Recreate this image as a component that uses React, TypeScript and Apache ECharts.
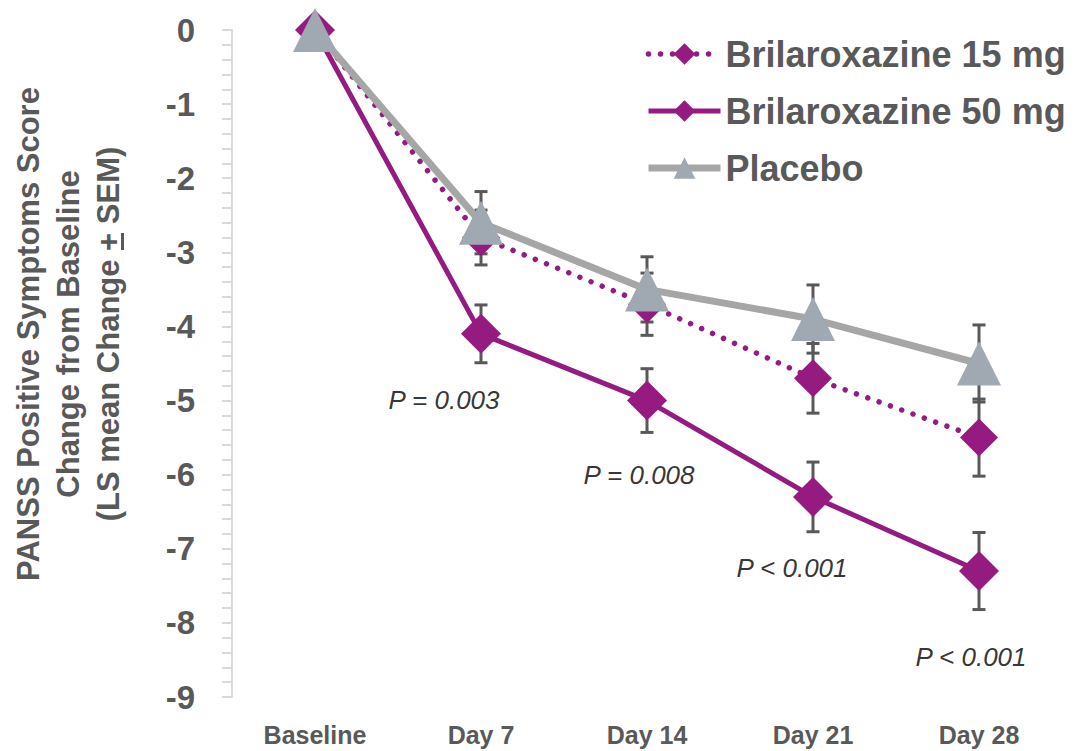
import React, { useEffect, useRef } from "react";
import * as echarts from "echarts";

const categories = ["Baseline", "Day 7", "Day 14", "Day 21", "Day 28"];
const brix15 = [0, -2.8, -3.7, -4.7, -5.5];
const brix15Sem = [0, 0.37, 0.42, 0.47, 0.52];
const brix50 = [0, -4.1, -5.0, -6.3, -7.3];
const brix50Sem = [0, 0.39, 0.43, 0.47, 0.52];
const placebo = [0, -2.6, -3.5, -3.9, -4.5];
const placeboSem = [0, 0.42, 0.44, 0.46, 0.52];

const seriesNames = ["Brilaroxazine 15 mg", "Brilaroxazine 50 mg", "Placebo"];

const pLabels = ["P = 0.003", "P = 0.008", "P < 0.001", "P < 0.001"];
const pLabelDays = ["Day 7", "Day 14", "Day 21", "Day 28"];
const pLabelY = [-4.99, -6.0, -7.26, -8.46];
const pLabelShift = [-37, -8, -21, -8];

const yTitle = ["PANSS Positive Symptoms Score", "Change from Baseline", "(LS mean Change + SEM)"];

const PURPLE = "#951B81";
const GREY_LINE = "#A6A6A6";
const GREY_TRI = "#A0A8B2";
const TEXT = "#595959";
const ERR = "#595959";
const FONT = "'Liberation Sans', Arial, sans-serif";

function errData(means: number[], sems: number[]) {
  return means
    .map((m, i) => [i, m - sems[i], m + sems[i], sems[i]])
    .filter((d) => d[3] > 0);
}

export default function App() {
  const ref = useRef<HTMLDivElement>(null);
  useEffect(() => {
    if (!ref.current) return;
    const chart = echarts.init(ref.current, undefined, { renderer: "svg" });
    const renderErr = (params: any, api: any) => {
      const x = api.value(0);
      const lo = api.coord([x, api.value(1)]);
      const hi = api.coord([x, api.value(2)]);
      const w = 6.5;
      const style = { stroke: ERR, lineWidth: 3 };
      return {
        type: "group",
        children: [
          { type: "line", shape: { x1: lo[0], y1: lo[1], x2: hi[0], y2: hi[1] }, style },
          { type: "line", shape: { x1: lo[0] - w, y1: lo[1], x2: lo[0] + w, y2: lo[1] }, style },
          { type: "line", shape: { x1: hi[0] - w, y1: hi[1], x2: hi[0] + w, y2: hi[1] }, style },
        ],
      };
    };
    const errSeries = [
      [brix15, brix15Sem],
      [brix50, brix50Sem],
      [placebo, placeboSem],
    ].map(([m, s]) => ({
      type: "custom",
      renderItem: renderErr,
      data: errData(m, s),
      z: 1,
      silent: true,
      encode: { x: 0, y: [1, 2] },
    }));

    chart.setOption({
      animation: false,
      backgroundColor: "#ffffff",
      grid: { left: 232, right: 16, top: 30, bottom: 54, containLabel: false },
      legend: {
        orient: "vertical",
        left: 640,
        top: 31,
        itemWidth: 72,
        itemHeight: 27,
        itemGap: 21,
        data: seriesNames,
        lineStyle: { width: "inherit" },
        textStyle: {
          fontSize: 36,
          lineHeight: 33,
          fontWeight: "bold",
          color: TEXT,
          fontFamily: FONT,
        },
      },
      xAxis: {
        type: "category",
        data: categories,
        boundaryGap: true,
        axisLine: { show: false },
        axisTick: { show: false },
        axisLabel: {
          margin: 25,
          fontSize: 25,
          fontWeight: "bold",
          color: TEXT,
          fontFamily: FONT,
        },
      },
      yAxis: {
        type: "value",
        min: -9,
        max: 0,
        interval: 1,
        splitLine: { show: false },
        axisLine: { show: true, lineStyle: { color: "#D9D9D9", width: 2 } },
        axisTick: { show: true, length: 10, lineStyle: { color: "#D9D9D9", width: 2 } },
        minorTick: { show: true, splitNumber: 5, length: 10, lineStyle: { color: "#D9D9D9", width: 2 } },
        axisLabel: {
          margin: 37,
          fontSize: 33,
          fontWeight: "bold",
          color: TEXT,
          fontFamily: FONT,
        },
      },
      graphic: [
        {
          type: "text",
          x: 68,
          y: 334,
          rotation: Math.PI / 2,
          style: {
            text: yTitle.join("\n"),
            align: "center",
            verticalAlign: "middle",
            fontSize: 31,
            lineHeight: 40,
            fontWeight: "bold",
            fill: TEXT,
            fontFamily: FONT,
          },
        },
        {
          type: "rect",
          shape: { x: 121, y: 233, width: 3, height: 17 },
          style: { fill: TEXT },
        },
      ],
      series: [
        ...errSeries,
        {
          name: seriesNames[0],
          type: "line",
          data: brix15,
          z: 3,
          symbol: "diamond",
          symbolSize: 38,
          itemStyle: { color: PURPLE },
          lineStyle: { color: PURPLE, width: 5.5, type: [0.01, 12], cap: "round" },
        },
        {
          name: seriesNames[1],
          type: "line",
          data: brix50,
          z: 3,
          symbol: "diamond",
          symbolSize: 40,
          itemStyle: { color: PURPLE },
          lineStyle: { color: PURPLE, width: 5 },
        },
        {
          name: seriesNames[2],
          type: "line",
          data: placebo,
          z: 4,
          symbol: "triangle",
          symbolSize: [44, 44],
          itemStyle: { color: GREY_TRI },
          lineStyle: { color: GREY_LINE, width: 7 },
        },
        {
          type: "scatter",
          z: 5,
          silent: true,
          symbolSize: 1,
          itemStyle: { color: "rgba(0,0,0,0)" },
          data: pLabels.map((t, i) => ({
            value: [pLabelDays[i], pLabelY[i]],
            label: {
              show: true,
              position: "inside",
              offset: [pLabelShift[i], 0],
              formatter: t,
              fontSize: 26,
              fontStyle: "italic",
              color: "#000000",
              textBorderWidth: 0,
              fontFamily: FONT,
            },
          })),
        },
      ],
    });
    return () => chart.dispose();
  }, []);
  return (
    <div
      ref={ref}
      style={{ position: "fixed", left: 0, top: 0, width: 1078, height: 751 }}
    />
  );
}
